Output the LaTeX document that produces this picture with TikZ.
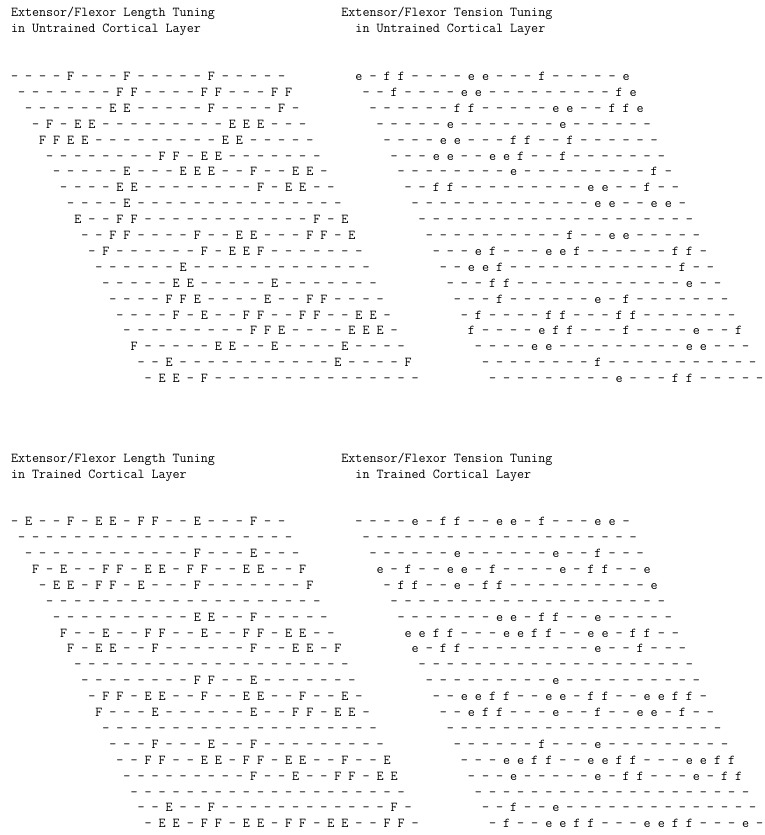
\documentclass[tikz,border=0pt]{standalone}
\newlength{\chwid}
\def\cellsp#1{\cellspA#1\relax}
\def\cellspA#1{\ifx#1\relax\else\makebox[14.06pt][l]{#1}\expandafter\cellspA\fi}
\newcommand\rowtext[1]{\expandafter\cellsp\expandafter{#1}}
\begin{document}
\settowidth{\chwid}{\fontsize{13.4pt}{14pt}\selectfont\ttfamily M}%
\ifdim\chwid<1pt \setlength{\chwid}{7.03pt}\fi
\pgfmathsetmacro\myfs{13.4*7.03/\chwid}%
\begin{tikzpicture}[x=1pt,y=-1pt]
\useasboundingbox (0,0) rectangle (764,835);
\tikzset{rowtxt/.style={font=\fontsize{\myfs pt}{\myfs pt}\selectfont\ttfamily, inner sep=0pt, anchor=base west, text=black}}
% titles
\node[rowtxt] (ta0) at ({10.8},{16.9}) {Extensor/Flexor Length Tuning};
\node[rowtxt] (ta1) at ({10.8},{16.9+15.9}) {in Untrained Cortical Layer};
\node[rowtxt] (tb0) at ({10.8+7.03*47},{16.9}) {Extensor/Flexor Tension Tuning};
\node[rowtxt] (tb1) at ({10.8+7.03*49},{16.9+15.9}) {in Untrained Cortical Layer};
\node[rowtxt] (tc0) at ({10.8},{16.9+15.9*28}) {Extensor/Flexor Length Tuning};
\node[rowtxt] (tc1) at ({10.8},{16.9+15.9*29}) {in Trained Cortical Layer};
\node[rowtxt] (td0) at ({10.8+7.03*47},{16.9+15.9*28}) {Extensor/Flexor Tension Tuning};
\node[rowtxt] (td1) at ({10.8+7.03*49},{16.9+15.9*29}) {in Trained Cortical Layer};
% grid 1
\foreach \rw [count=\i from 0] in {
----F---F-----F-----,
-------FF----FF---FF,
------EE-----F----F-,
-F-EE---------EEE---,
FFEE---------EE-----,
--------FF-EE-------,
-----E---EEE--F--EE-,
----EE--------F-EE--,
----E---------------,
E--FF------------F-E,
--FF----F--EE---FF-E,
-F------F-EEF-------,
------E-------------,
-----EE-----E-------,
----FFE----E--FF----,
----F-E--FF--FF--EE-,
---------FFE----EEE-,
F-----EE--E----E----,
--E-----------E----F,
-EE-F---------------}
{\node[rowtxt] (ga\i) at ({10.8+7.03*\i},{16.9+15.9*(4+\i)}) {\rowtext{\rw}};}
% grid 2
\foreach \rw [count=\i from 0] in {
e-ff----ee---f-----e,
--f----ee---------fe,
------ff-----ee--ffe,
-----e-------e------,
----ee---ff--f------,
---ee--eef--f-------,
--------e---------f-,
--ff---------ee--f--,
-------------ee--ee-,
--------------------,
----------f--ee-----,
---ef---eef------ff-,
--eef------------f--,
---ff------------e--,
---f------e-f-------,
-f----ff---ff-------,
f----eff---f----e--f,
----ee---------ee---,
--------f-----------,
---------e---ff-----}
{\node[rowtxt] (gb\i) at ({10.8+7.03*(49+\i)},{16.9+15.9*(4+\i)}) {\rowtext{\rw}};}
% grid 3
\foreach \rw [count=\i from 0] in {
-E--F-EE-FF--E---F--,
--------------------,
------------F---E---,
F-E--FF-EE-FF--EE--F,
-EE-FF-E---F-------F,
--------------------,
----------EE--F-----,
F--E--FF--E--FF-EE--,
F-EE--F------F--EE-F,
--------------------,
--------FF--E-------,
-FF-EE--F--EE--F--E-,
F---E------E--FF-EE-,
--------------------,
---F---E--F---------,
--FF--EE-FF-EE--F--E,
---------F--E--FF-EE,
--------------------,
--E--F------------F-,
-EE-FF-EE-FF-EE--FF-}
{\node[rowtxt] (gc\i) at ({10.8+7.03*\i},{16.9+15.9*(32+\i)}) {\rowtext{\rw}};}
% grid 4
\foreach \rw [count=\i from 0] in {
----e-ff--ee-f---ee-,
--------------------,
------e------e--f---,
e-f--ee-f----e-ff--e,
-ff--e-ff----------e,
--------------------,
-------ee-ff--e-----,
eeff---eeff--ee-ff--,
e-ff---------e--f---,
--------------------,
---------e----------,
--eeff--ee-ff--eeff-,
--eff---e--f--ee-f--,
--------------------,
------f---e---------,
---eeff--eeff---eeff,
---e-----e-ff---e-ff,
--------------------,
--f--e--------------,
-f--eeff---eeff---e-}
{\node[rowtxt] (gd\i) at ({10.8+7.03*(49+\i)},{16.9+15.9*(32+\i)}) {\rowtext{\rw}};}
\end{tikzpicture}
\end{document}
